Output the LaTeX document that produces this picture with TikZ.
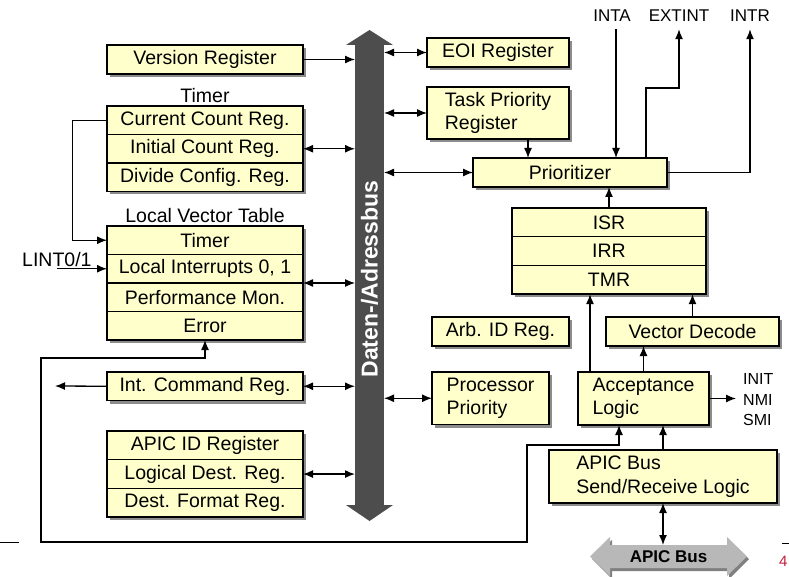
\documentclass[tikz,border=0pt]{standalone}
\usepackage{fontspec}
\setmainfont{Liberation Sans}
\usetikzlibrary{positioning, shadows, arrows.meta}

\definecolor{regfill}{HTML}{FFFFCC}
\definecolor{busgrey}{HTML}{4D4D4D}
\definecolor{apicgrey}{HTML}{B8B8B8}
\definecolor{apicdark}{HTML}{808080}
\definecolor{pagered}{HTML}{C41E3A}

\tikzset{
    reg/.style={draw=black, line width=1.3pt, fill=regfill,
        minimum width=196pt, minimum height=28.5pt, inner sep=0pt, outer sep=0pt,
        font=\fontsize{19.5pt}{23.5pt}\selectfont,
        drop shadow={shadow xshift=3pt, shadow yshift=-3pt,
            opacity=1, fill=black!45}},
    lbl/.style={inner sep=1pt, font=\fontsize{19.5pt}{23.5pt}\selectfont},
    sig/.style={inner xsep=2pt, inner ysep=7pt,
        font=\fontsize{17pt}{20.5pt}\selectfont},
    busbar/.style={fill=busgrey, minimum width=29pt,
        minimum height=460pt, inner sep=0pt, outer sep=0pt},
    bustext/.style={rotate=90, text=white, inner sep=0pt,
        font=\fontsize{23pt}{27pt}\selectfont\bfseries},
    apictext/.style={minimum width=117pt, minimum height=23pt, inner sep=0pt,
        outer sep=0pt, font=\fontsize{17pt}{20pt}\selectfont\bfseries},
    conn/.style={line width=1.3pt, draw=black}
}

\begin{document}
\begin{tikzpicture}[x=1pt, y=-1pt, >={Latex[length=10pt, width=8pt]}]

        % Page area
        \path[use as bounding box, fill=white] (0,0) rectangle (789,577);

        % Data/address bus
        \node[busbar] (bus) at (369.5,275) {};
        \fill[busgrey] ([xshift=-9pt]bus.north west) -- ([yshift=15pt]bus.north)
            -- ([xshift=9pt]bus.north east) -- cycle;
        \fill[busgrey] ([xshift=-9pt]bus.south west) -- ([yshift=-16pt]bus.south)
            -- ([xshift=9pt]bus.south east) -- cycle;
        \node[bustext] (bustxt) at (369.5,279) {Daten-/Adressbus};

        % APIC bus
        \fill[apicdark] (612,548) -- (612,540) -- (592,559) -- (612,579)
            -- (612,571) -- (729,571) -- (729,579) -- (749,559)
            -- (729,540) -- (729,548) -- cycle;
        \fill[apicgrey] (610,545) -- (610,537) -- (590,556.5) -- (610,576)
            -- (610,568) -- (727,568) -- (727,576) -- (747,556.5)
            -- (727,537) -- (727,545) -- cycle;
        \node[apictext] (apicbus) at (668.5,556.5) {APIC Bus};

        % Add the registers on the left
        \node[reg, anchor=north west, minimum height=29pt] (vr) at (107,45)
            {Version Register};

        \node[reg, anchor=north west] (tcur) at (107,106) {Current Count Reg.};
        \node[reg, below=0pt of tcur] (tini) {Initial Count Reg.};
        \node[reg, below=0pt of tini] (tdiv) {Divide Config. Reg.};
        \node[lbl, above=2pt of tcur] (tlbl) {Timer};

        \node[reg, anchor=north west] (lvtt) at (107,226) {Timer};
        \node[reg, below=0pt of lvtt] (lvtint) {Local Interrupts 0, 1};
        \node[reg, below=0pt of lvtint] (lvtperf) {Performance Mon.};
        \node[reg, below=0pt of lvtperf] (lvterr) {Error};
        \node[lbl, above=2pt of lvtt] (lvtlbl) {Local Vector Table};
        \node[lbl, anchor=base west, inner sep=0pt] (lint) at (22,266) {LINT0/1};

        \node[reg, anchor=north west] (icr) at (107,372) {Int. Command Reg.};

        \node[reg, anchor=north west, minimum height=28.7pt] (aid) at (107,431)
            {APIC ID Register};
        \node[reg, below=0pt of aid, minimum height=28.7pt] (ldr) {Logical Dest. Reg.};
        \node[reg, below=0pt of ldr, minimum height=28.7pt] (dfr) {Dest. Format Reg.};

        % Add the registers and logic on the right
        \node[reg, anchor=north west, minimum width=142pt, minimum height=29pt]
            (eoi) at (427,38) {EOI Register};
        \node[reg, anchor=north west, minimum width=142pt, minimum height=52pt,
            align=left] (tpr) at (427,87) {Task Priority\\Register};
        \node[reg, anchor=north west, minimum width=194pt, minimum height=29pt]
            (prio) at (473,158) {Prioritizer};

        \node[reg, anchor=north west, minimum width=194pt, minimum height=28.7pt]
            (isr) at (512,208) {ISR};
        \node[reg, below=0pt of isr, minimum width=194pt, minimum height=28.7pt]
            (irr) {IRR};
        \node[reg, below=0pt of irr, minimum width=194pt, minimum height=28.7pt]
            (tmr) {TMR};

        \node[reg, anchor=north west, minimum width=137pt, minimum height=29pt]
            (arb) at (432,317) {Arb. ID Reg.};
        \node[reg, anchor=north west, minimum width=173pt, minimum height=29pt]
            (vd) at (606,317) {Vector Decode};
        \node[reg, anchor=north west, minimum width=117pt, minimum height=52.5pt,
            align=left] (pp) at (432,372) {Processor\\Priority};
        \node[reg, anchor=north west, minimum width=131pt, minimum height=53pt,
            align=left] (acc) at (578,372) {Acceptance\\Logic};
        \node[reg, anchor=north west, minimum width=228pt, minimum height=53pt,
            align=left] (srl) at (549,450) {APIC Bus\\Send/Receive Logic};

        % Interrupt signals
        \node[sig, anchor=base] (inta) at (612,22) {INTA};
        \node[sig, anchor=base] (extint) at (679,22) {EXTINT};
        \node[sig, anchor=base] (intr) at (750,22) {INTR};
        \node[sig, anchor=west, align=left, inner xsep=7pt, inner ysep=0pt,
            font=\fontsize{16pt}{20.5pt}\selectfont] (ins) at (736,400)
            {INIT\\NMI\\SMI};

        % Free ends and bends
        \coordinate (tprout) at ([xshift=30pt]tpr.south);
        \coordinate (intain) at ([xshift=4pt]inta.south);
        \coordinate (extout) at ([xshift=76pt]prio.north);
        \coordinate (accl) at ([xshift=12pt]acc.north west);
        \coordinate (accin) at ([xshift=-24.5pt]acc.south);
        \coordinate (loopa) at (41,542);
        \coordinate (loopb) at (527,445);
        \coordinate (icrout) at (55,386);

        % Connect the registers with the bus
        \draw[conn]
            (vr.east)               edge[->]  (vr.east -| bus.west)
            (tini.east)             edge[<->] (tini.east -| bus.west)
            (lvtint.south east)     edge[<->] (lvtint.south east -| bus.west)
            (icr.east)              edge[<->] (icr.east -| bus.west)
            (ldr.east)              edge[<->] (ldr.east -| bus.west)
            (eoi.west -| bus.east)  edge[<->] (eoi.west)
            (tpr.west -| bus.east)  edge[<->] (tpr.west)
            (prio.west -| bus.east) edge[<->] (prio.west)
            (pp.west -| bus.east)   edge[<->] (pp.west);

        % Connect the logic blocks
        \draw[conn, ->] (tprout) -- (tprout |- prio.north);
        \draw[conn, ->] (intain) -- (intain |- prio.north);
        \draw[conn, ->] (extout) -- ++(0,-70) -| (extint.south);
        \draw[conn, ->] (prio.east) -| (intr.south);
        \draw[conn, ->] (isr.north) -- (isr.north |- prio.south);
        \draw[conn, ->] (vd.north) -- (vd.north |- tmr.south);
        \draw[conn, ->] (accl) -- (accl |- tmr.south);
        \draw[conn, ->] (acc.north) -- (acc.north |- vd.south);
        \draw[conn, ->] (acc.east) -- (acc.east -| ins.west);
        \draw[conn, ->] (srl.north) -- (srl.north |- acc.south);
        \draw[conn, <->] (srl.south) -- (srl.south |- apicbus.north);
        \draw[conn, <->] (lvterr.south) -- ++(0,18) -| (loopa) -| (loopb) -| (accin);
        \draw[conn, ->] (icr.west) -- (icrout);
        \draw[conn, ->] (tcur.west) -- ++(-34.5,0) |- (lvtt.west);
        \draw[conn, ->] (lvtint.west -| lint.south) -- (lvtint.west);

        % Page footer
        \draw[line width=1pt] (0,542) -- (19,542);
        \draw[line width=1pt] (782,543) -- (789,543);
        \node[anchor=base west, inner sep=0pt, text=pagered,
            font=\fontsize{15pt}{18pt}\selectfont] (pg) at (779,566) {4};
\end{tikzpicture}
\end{document}
